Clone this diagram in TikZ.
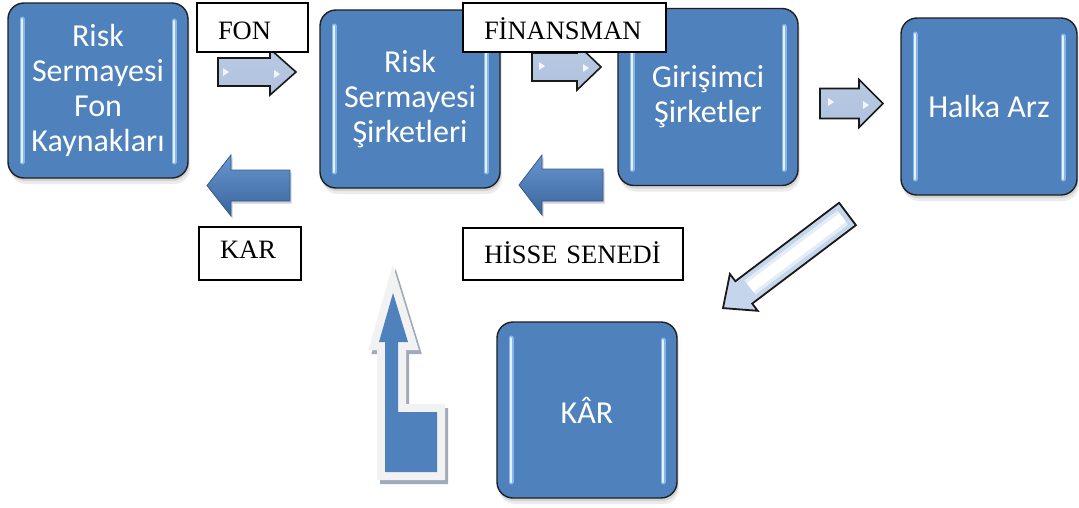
\documentclass[tikz,border=0pt]{standalone}
\usepackage{fontspec}
\setmainfont{Liberation Serif}
\newfontfamily\boxfont{Carlito}
\usetikzlibrary{calc}
\definecolor{boxblue}{RGB}{79,129,189}
\definecolor{hlglow}{RGB}{150,196,242}
\definecolor{hlcore}{RGB}{228,242,255}
\definecolor{arrtop}{RGB}{184,201,227}
\definecolor{arrmid}{RGB}{226,234,245}
\definecolor{arrbot}{RGB}{176,194,222}
\definecolor{darktop}{RGB}{104,150,208}
\definecolor{darkbot}{RGB}{58,100,156}
\definecolor{darkline}{RGB}{52,90,140}
\definecolor{diagfill}{RGB}{197,213,236}
\definecolor{shadowgray}{RGB}{160,170,184}
\definecolor{outlinewhite}{RGB}{242,242,242}
\newcommand\rightblock[6]{% x0, xbase, xtip, yc, body half, head half
  \path[lightarr] (#1,#4-#5) -- (#2,#4-#5) -- (#2,#4-#6) -- (#3,#4) -- (#2,#4+#6) -- (#2,#4+#5) -- (#1,#4+#5) -- cycle;}
\newcommand\leftblock[6]{% xright, xbase, xtip, yc, body half, head half
  \path[darkarr] (#1,#4-#5) -- (#2,#4-#5) -- (#2,#4-#6) -- (#3,#4) -- (#2,#4+#6) -- (#2,#4+#5) -- (#1,#4+#5) -- cycle;}
\newcommand\marktri[2]{\fill[white,opacity=0.85] (#1-3,#2-4) -- (#1+3,#2) -- (#1-3,#2+4) -- cycle;}
\newcommand\uparr[1]{\path[#1] (393,293) -- (408,342) -- (398,342) -- (398,412) -- (437,412) -- (437,472) -- (385,472) -- (385,342) -- (379,342) -- cycle;}
\newcommand\lowered[2]{\raisebox{#1}[0pt][0pt]{#2}}
\begin{document}
\begin{tikzpicture}[x=1pt,y=-1pt,
  bluebox/.style={draw=black!88, line width=1.4pt, fill=boxblue, rounded corners=16pt,
    minimum width=180pt, minimum height=176pt, inner sep=0pt, text=white,
    font=\boxfont\fontsize{32}{35}\selectfont, align=center,
    preaction={fill=black, opacity=0.10, transform canvas={shift={(1pt,-3pt)}}},
    preaction={fill=black, opacity=0.08, transform canvas={shift={(2pt,-6pt)}}},
    path picture={
      \draw[hlglow, line width=5pt, line cap=round, opacity=0.8]
        ([xshift=14pt,yshift=-16pt]path picture bounding box.north west) --
        ([xshift=14pt,yshift=16pt]path picture bounding box.south west);
      \draw[hlglow, line width=5pt, line cap=round, opacity=0.8]
        ([xshift=-14pt,yshift=-18pt]path picture bounding box.north east) --
        ([xshift=-14pt,yshift=16pt]path picture bounding box.south east);
      \draw[hlcore, line width=2pt, line cap=round]
        ([xshift=14pt,yshift=-16pt]path picture bounding box.north west) --
        ([xshift=14pt,yshift=16pt]path picture bounding box.south west);
      \draw[hlcore, line width=2pt, line cap=round]
        ([xshift=-14pt,yshift=-18pt]path picture bounding box.north east) --
        ([xshift=-14pt,yshift=16pt]path picture bounding box.south east);
    }},
  tag/.style={draw=black, line width=1.2pt, fill=white, font=\fontsize{26.5}{30}\selectfont,
    inner xsep=21pt, inner ysep=0pt, align=left},
  lightarr/.style={draw=black!90, line width=1.6pt, line join=miter,
    top color=arrtop, middle color=arrmid, bottom color=arrbot},
  darkarr/.style={draw=darkline, line width=0.8pt, line join=miter,
    top color=darktop, bottom color=darkbot,
    preaction={fill=black, opacity=0.18, transform canvas={shift={(1.5pt,-2.5pt)}}}}
]
\useasboundingbox (0,0) rectangle (1079,507);

% boxes
\node[bluebox, minimum height=175pt] (fon) at (98,90.5) {Risk\\Sermayesi\\Fon\\Kaynakları};
\node[bluebox, minimum height=178pt] (rss) at (410,99) {Risk\\Sermayesi\\Şirketleri};
\node[bluebox, minimum height=177pt] (gir) at (708,97) {Girişimci\\Şirketler};
\node[bluebox, minimum width=176pt, minimum height=177pt] (halka) at (989,106.5) {Halka Arz};
\node[bluebox] (kar) at (587,410) {KÂR};

% right (light) arrows
\rightblock{218}{270}{296}{72}{14}{23}
\marktri{226}{72}\marktri{277}{74}
\rightblock{532}{577}{601}{67}{14}{23}
\marktri{542}{66}\marktri{586}{68}
\rightblock{820}{859}{883}{103.5}{15}{24}
\marktri{831}{102}\marktri{866}{105}

% left (dark) arrows
\leftblock{290}{231}{207}{185.5}{15.5}{30.5}
\leftblock{603}{542}{519}{185}{16}{30}

% diagonal arrow towards KÂR
\path[fill=diagfill] (855.9,225.2) -- (752.2,303.6) -- (757.7,310.8) -- (723.0,308.1) -- (729.9,274.0) -- (735.4,281.2) -- (839.1,202.8) -- cycle;
\draw[white, line width=18pt, opacity=0.55] (842.7,217.6) -- (750,287.5);
\draw[white, line width=11pt] (842.7,217.6) -- (750,287.5);
\draw[black!90, line width=1.8pt, line join=miter] (855.9,225.2) -- (752.2,303.6) -- (757.7,310.8) -- (723.0,308.1) -- (729.9,274.0) -- (735.4,281.2) -- (839.1,202.8) -- cycle;

% bent up arrow
\uparr{draw=shadowgray, fill=shadowgray, line width=16pt, line join=miter, shift={(3,4)}}
\uparr{draw=outlinewhite, fill=outlinewhite, line width=16pt, line join=miter}
\uparr{fill=boxblue}

% labels
\node[tag, text width=69pt, minimum height=49pt] (tfon) at (252.5,27.5) {\lowered{-12pt}{FON}};
\node[tag, text width=161pt, minimum height=49pt] (tfin) at (564.5,27.5) {\lowered{-12pt}{FİNANSMAN}};
\node[tag, text width=60pt, minimum height=53pt] (tkar) at (250,253.5) {\lowered{-5pt}{KAR}};
\node[tag, text width=178pt, minimum height=52pt] (this) at (573,254) {\lowered{-9pt}{HİSSE SENEDİ}};
\end{tikzpicture}
\end{document}
